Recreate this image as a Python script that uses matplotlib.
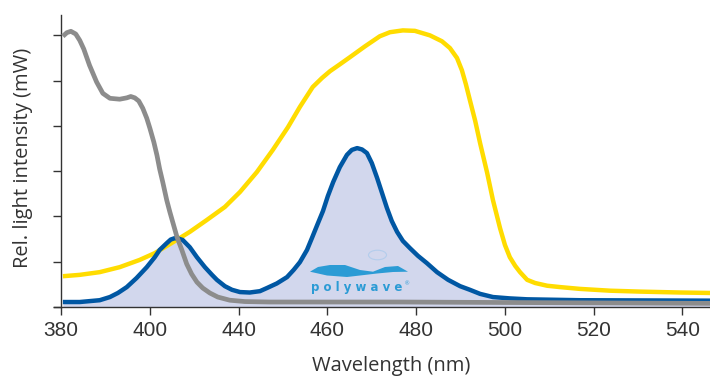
import matplotlib.pyplot as plt
from matplotlib.path import Path
from matplotlib.patches import PathPatch, Circle

# values (x follows the evenly spaced ticks)
gray_x = [380.4, 381.3, 382.2, 383.3, 384.2, 385.1, 386.4, 388.0, 389.4, 391.0,
          393.2, 394.8, 395.7, 396.6, 397.5, 398.4, 399.3, 400.0, 400.9, 401.6,
          402.2, 402.9, 403.8, 404.5, 405.4, 406.1, 407.2, 408.3, 409.4, 410.6,
          411.9, 413.5, 415.3, 418.0, 421.4, 427.0, 456.3, 501.4, 526.2]
gray_y = [5.98, 6.06, 6.09, 6.03, 5.89, 5.70, 5.34, 4.97, 4.72, 4.61,
          4.59, 4.62, 4.65, 4.62, 4.55, 4.39, 4.17, 3.95, 3.64, 3.35,
          3.05, 2.76, 2.36, 2.10, 1.79, 1.55, 1.26, 0.95, 0.73, 0.55,
          0.42, 0.31, 0.22, 0.15, 0.12, 0.11, 0.11, 0.09, 0.08]

yellow_x = [380.4, 384.2, 388.7, 393.2, 397.7, 401.1, 405.2, 409.0, 412.8, 416.9,
            420.3, 424.1, 427.7, 431.1, 433.8, 436.7, 438.8, 440.6, 442.8, 445.1,
            448.5, 451.8, 454.1, 457.0, 459.7, 463.1, 465.8, 467.6, 469.2, 470.3,
            471.2, 472.1, 473.3, 474.4, 476.0, 477.3, 478.9, 480.0, 481.1, 482.3,
            483.4, 485.0, 486.8, 489.5, 492.4, 496.9, 503.7, 510.5, 519.5, 526.2]
yellow_y = [0.68, 0.71, 0.77, 0.88, 1.04, 1.19, 1.43, 1.66, 1.92, 2.21,
            2.54, 2.98, 3.47, 3.97, 4.42, 4.86, 5.06, 5.21, 5.36, 5.52,
            5.76, 5.98, 6.07, 6.11, 6.10, 6.00, 5.87, 5.72, 5.50, 5.23,
            4.92, 4.57, 4.11, 3.62, 2.96, 2.36, 1.74, 1.37, 1.10, 0.91,
            0.77, 0.60, 0.53, 0.47, 0.44, 0.40, 0.36, 0.34, 0.32, 0.31]

blue_x = [380.4, 384.2, 388.7, 391.0, 392.8, 394.8, 397.0, 399.3, 401.1, 402.2,
          403.8, 404.7, 405.6, 406.5, 407.4, 409.0, 410.6, 412.4, 414.0, 415.1,
          416.9, 418.5, 420.3, 422.5, 424.8, 426.4, 428.6, 430.9, 432.4, 433.8,
          435.4, 436.5, 437.7, 439.0, 440.1, 441.3, 442.8, 444.4, 445.5, 446.7,
          447.8, 448.9, 450.0, 451.2, 452.3, 453.4, 454.5, 455.7, 457.0, 458.6,
          460.4, 462.4, 464.7, 467.2, 469.9, 472.1, 474.4, 477.3, 481.1, 485.0,
          496.9, 526.2]
blue_y = [0.11, 0.11, 0.15, 0.22, 0.31, 0.44, 0.64, 0.88, 1.10, 1.26,
          1.41, 1.49, 1.52, 1.51, 1.48, 1.32, 1.10, 0.88, 0.71, 0.60,
          0.46, 0.38, 0.33, 0.32, 0.35, 0.42, 0.52, 0.66, 0.82, 0.99,
          1.26, 1.52, 1.81, 2.12, 2.45, 2.76, 3.09, 3.36, 3.47, 3.51,
          3.48, 3.40, 3.18, 2.85, 2.52, 2.19, 1.90, 1.66, 1.46, 1.30,
          1.13, 0.97, 0.77, 0.60, 0.46, 0.38, 0.29, 0.22, 0.19, 0.17,
          0.15, 0.14]

tick_pos = [380, 400, 420, 440, 460, 480, 500, 520]
tick_labels = ['380', '400', '440', '460', '480', '500', '520', '540']

plt.rcParams['font.family'] = ['Open Sans', 'DejaVu Sans']

fig = plt.figure(figsize=(7.1, 3.78), dpi=100)
ax = fig.add_axes([54 / 710, 1 - 307 / 378, 1 - 54 / 710, (307 - 15) / 378])

ax.fill_between(blue_x, 0, blue_y, color='#d2d7ed', lw=0, zorder=1)
ax.plot(yellow_x, yellow_y, color='#ffdc00', lw=3.2, solid_capstyle='butt',
        solid_joinstyle='round', zorder=3)
ax.plot(blue_x, blue_y, color='#0057a3', lw=3.2, solid_capstyle='butt',
        solid_joinstyle='round', zorder=4)
ax.plot(gray_x, gray_y, color='#8c8c8c', lw=3.4, solid_capstyle='butt',
        solid_joinstyle='round', zorder=5)

ax.set_xlim(378.4, 526.2)
ax.set_ylim(0, 6.45)
ax.spines['left'].set_position(('data', 380))
ax.spines['top'].set_visible(False)
ax.spines['right'].set_visible(False)
for s in ['left', 'bottom']:
    ax.spines[s].set_color('#333333')
    ax.spines[s].set_linewidth(1.0)
    ax.spines[s].set_zorder(2)

ax.set_xticks(tick_pos)
ax.set_xticklabels(tick_labels, family='Liberation Sans')
ax.set_yticks(range(0, 7))
ax.set_yticklabels([])
ax.tick_params(axis='both', direction='out', length=6, width=1.0, color='#333333',
               labelsize=15, labelcolor='#333333', pad=4)

ax.set_xlabel('Wavelength (nm)', fontsize=14.5, color='#333333', va='top')
ax.xaxis.set_label_coords((391.5 - 54) / 656, (307 - 356) / 292)
ax.set_ylabel('Rel. light intensity (mW)', fontsize=14.5, color='#333333')
ax.yaxis.set_label_coords((33 - 54) / 656, (307 - 157.5) / 292)

# polywave logo, placed in pixel coordinates of the figure
def fp(px, py):
    return (px / 710, 1 - py / 378)

top = [(310, 271.7), (318, 267), (330, 265), (345, 265), (360, 270), (373, 271.7),
       (385, 267), (398, 266), (408, 271.7)]
bot = [(408, 271.7), (393, 272), (377, 273.5), (360, 275.5), (347, 277), (327, 275.5), (310, 271.7)]
verts = [fp(*p) for p in top + bot]
codes = [Path.MOVETO] + [Path.LINETO] * (len(verts) - 2) + [Path.CLOSEPOLY]
fig.patches.append(PathPatch(Path(verts, codes), transform=fig.transFigure,
                             facecolor='#2b9bd5', edgecolor='none', zorder=6))
c = fp(377.5, 255)
fig.patches.append(Circle(c, 9 / 710, transform=fig.transFigure, facecolor='none',
                          edgecolor='#b4cdec', lw=0.8, zorder=6))
fig.text(*fp(357, 288), 'p o l y w a v e', fontsize=8.5, fontweight='bold', color='#2b9bd5',
         ha='center', va='center', family='DejaVu Sans')
fig.text(*fp(407, 284), '®', fontsize=4, color='#2b9bd5', ha='center', va='center')

fig.savefig('out.png', dpi=100)
